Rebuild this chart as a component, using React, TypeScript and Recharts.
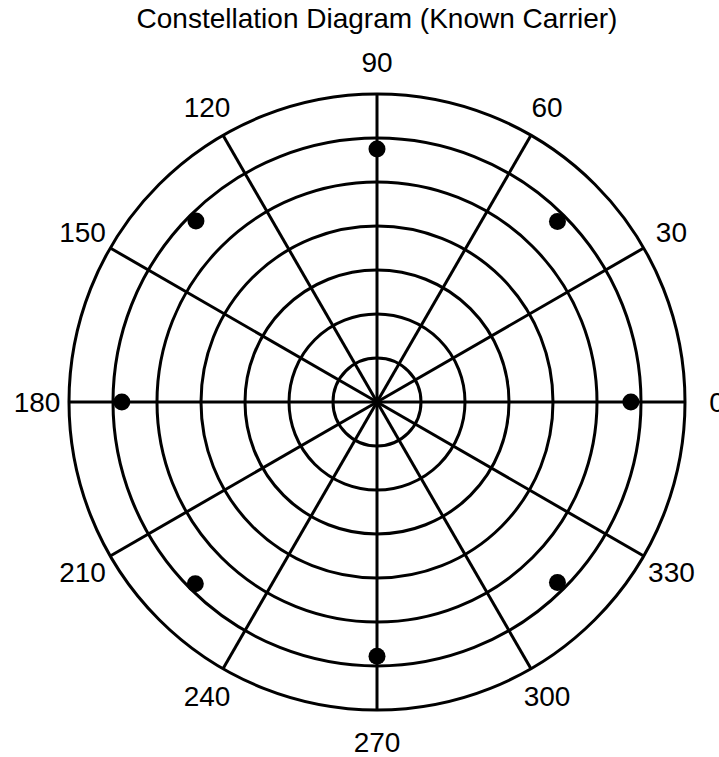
import { RadarChart, PolarGrid, PolarAngleAxis, PolarRadiusAxis, Radar } from 'recharts'

const SPOKE_ANGLES = [0, 30, 60, 90, 120, 150, 180, 210, 240, 270, 300, 330]
const LABEL_ANGLES = [0, 30, 60, 90, 120, 150, 180, 210, 240, 270, 300, 330]

// received 8-PSK symbols (phase deg, magnitude)
const SYMBOL_PHASE = [0, 45, 90, 135, 180, 225, 270, 315]
const SYMBOL_MAG = [5.77, 5.8, 5.75, 5.82, 5.8, 5.84, 5.78, 5.8]

const R_MAX = 7

const chartData = SYMBOL_PHASE.map((p, i) => ({ angle: p, mag: SYMBOL_MAG[i] }))

const FONT = '"Liberation Sans", Arial, sans-serif'

function AngleTick(props: any) {
  const { x, y, payload } = props
  if (!LABEL_ANGLES.includes(payload.value)) return <g />
  return (
    <text x={x} y={y} textAnchor="middle" dominantBaseline="central"
      fontSize={28} fontFamily={FONT} fill="#000">
      {payload.value}
    </text>
  )
}

function SymbolDot(props: any) {
  const { cx, cy, index } = props
  if (!Number.isFinite(cx) || !Number.isFinite(cy)) return <g key={`d-${index}`} />
  return <circle key={`d-${index}`} cx={cx} cy={cy} r={8.5} fill="#000" stroke="none" />
}

export default function App() {
  return (
    <div style={{ position: 'absolute', left: 0, top: 0, width: 719, height: 757, background: '#fff' }}>
      <div style={{
        position: 'absolute', left: 0, top: 3, width: 754, textAlign: 'center',
        fontFamily: FONT, fontSize: 28, lineHeight: '32px', color: '#000',
      }}>
        Constellation Diagram (Known Carrier)
      </div>
      <RadarChart width={719} height={757} data={chartData}
        cx={377} cy={402} outerRadius={308} startAngle={0} endAngle={360}
        margin={{ top: 0, right: 0, bottom: 0, left: 0 }}>
        <PolarGrid gridType="circle" polarAngles={SPOKE_ANGLES} stroke="#000" strokeWidth={3} strokeOpacity={1} />
        <PolarRadiusAxis type="number" domain={[0, R_MAX]} tickCount={R_MAX + 1} tick={false} axisLine={false} />
        <PolarAngleAxis dataKey="angle" type="number" domain={[0, 360]} ticks={LABEL_ANGLES} tickCount={13}
          tick={<AngleTick />} tickLine={false} axisLine={false} tickSize={32} />
        <Radar dataKey="mag" isAnimationActive={false} stroke="none" fill="none"
          shape={() => <g />} dot={SymbolDot} />
      </RadarChart>
    </div>
  )
}
